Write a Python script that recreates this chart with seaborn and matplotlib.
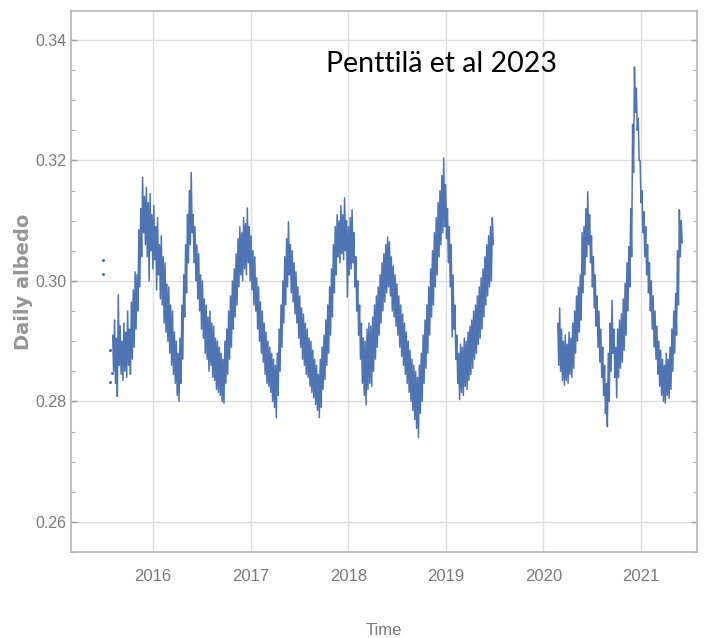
import matplotlib
matplotlib.use("Agg")
import matplotlib.pyplot as plt
from matplotlib.ticker import MultipleLocator
import pandas as pd
import seaborn as sns

# Daily albedo, two readings per week (first gap-free stretch)
seg1_start = "2015-08-03"
seg1_albedo = [
    0.2910, 0.2850, 0.2935, 0.2830, 0.2905, 0.2808, 0.2977, 0.2860, 0.2925, 0.2845, 0.2900, 0.2835, 0.2930, 0.2850,
    0.2915, 0.2840, 0.2950, 0.2860, 0.2920, 0.2845, 0.2965, 0.2870, 0.2985, 0.2890, 0.3015, 0.2920,
    0.3010, 0.2950, 0.3085, 0.2990, 0.3120, 0.3040, 0.3172, 0.3080, 0.3140, 0.3060, 0.3155, 0.3040, 0.3130, 0.3000,
    0.3145, 0.3050, 0.3110, 0.3020, 0.3125, 0.3035, 0.3090, 0.2985, 0.3105, 0.3010, 0.3060, 0.2970,
    0.3075, 0.2960, 0.3040, 0.2930, 0.3030, 0.2915, 0.2995, 0.2900, 0.2990, 0.2880, 0.2960, 0.2860, 0.2950, 0.2845,
    0.2915, 0.2830, 0.2900, 0.2810, 0.2880, 0.2800, 0.2905, 0.2830, 0.2960, 0.2870, 0.3010, 0.2940,
    0.3060, 0.2980, 0.3110, 0.3030, 0.3150, 0.3060, 0.3180, 0.3080, 0.3110, 0.3030, 0.3090, 0.3000, 0.3060, 0.2970,
    0.3045, 0.2950, 0.3010, 0.2920, 0.3000, 0.2905, 0.2970, 0.2880, 0.2960, 0.2870, 0.2940, 0.2850,
    0.2950, 0.2860, 0.2930, 0.2840, 0.2925, 0.2835, 0.2905, 0.2820, 0.2900, 0.2815, 0.2890, 0.2810, 0.2880, 0.2800,
    0.2870, 0.2797, 0.2900, 0.2830, 0.2920, 0.2845, 0.2950, 0.2870, 0.2975, 0.2890, 0.3000, 0.2920,
    0.3020, 0.2940, 0.3045, 0.2960, 0.3070, 0.2990, 0.3090, 0.3010, 0.3080, 0.3000, 0.3105, 0.3020, 0.3095, 0.3010,
    0.3121, 0.3030, 0.3090, 0.3000, 0.3075, 0.2985, 0.3050, 0.2960, 0.3040, 0.2950, 0.3005, 0.2920,
    0.2990, 0.2900, 0.2965, 0.2880, 0.2950, 0.2865, 0.2930, 0.2845, 0.2915, 0.2830, 0.2900, 0.2825, 0.2890, 0.2815,
    0.2880, 0.2800, 0.2870, 0.2790, 0.2860, 0.2773, 0.2880, 0.2810, 0.2920, 0.2850, 0.2960, 0.2890,
    0.3000, 0.2930, 0.3040, 0.2960, 0.3070, 0.2990, 0.3098, 0.3010, 0.3060, 0.2980, 0.3050, 0.2965, 0.3030, 0.2945,
    0.3015, 0.2930, 0.2990, 0.2905, 0.2975, 0.2890, 0.2955, 0.2870, 0.2945, 0.2860, 0.2930, 0.2845,
    0.2920, 0.2840, 0.2905, 0.2825, 0.2900, 0.2815, 0.2885, 0.2806, 0.2870, 0.2795, 0.2860, 0.2785, 0.2845, 0.2773,
    0.2870, 0.2790, 0.2890, 0.2820, 0.2910, 0.2836, 0.2935, 0.2860, 0.2960, 0.2880, 0.2990, 0.2910,
    0.3020, 0.2940, 0.3060, 0.2980, 0.3090, 0.3010, 0.3110, 0.3040, 0.3100, 0.3030, 0.3125, 0.3045, 0.3110, 0.3035,
    0.3138, 0.3050, 0.3100, 0.2973, 0.3090, 0.3010, 0.3105, 0.3020, 0.3118, 0.3030, 0.3080, 0.2990,
    0.3040, 0.2950, 0.3000, 0.2910, 0.2960, 0.2870, 0.2930, 0.2830, 0.2905, 0.2810, 0.2900, 0.2794, 0.2920, 0.2820,
    0.2930, 0.2830, 0.2925, 0.2825, 0.2940, 0.2850, 0.2960, 0.2870, 0.2975, 0.2890, 0.2990, 0.2910,
    0.3010, 0.2930, 0.3030, 0.2950, 0.3045, 0.2965, 0.3060, 0.2980, 0.3073, 0.2990, 0.3065, 0.2975, 0.3040, 0.2950,
    0.3025, 0.2940, 0.3010, 0.2925, 0.2995, 0.2910, 0.2975, 0.2890, 0.2960, 0.2875, 0.2945, 0.2860,
    0.2930, 0.2845, 0.2915, 0.2830, 0.2900, 0.2815, 0.2885, 0.2800, 0.2870, 0.2785, 0.2860, 0.2770, 0.2850, 0.2755,
    0.2840, 0.2740, 0.2860, 0.2780, 0.2880, 0.2800, 0.2910, 0.2830, 0.2935, 0.2855, 0.2960, 0.2880,
    0.2990, 0.2910, 0.3020, 0.2940, 0.3050, 0.2960, 0.3080, 0.2990, 0.3105, 0.3010, 0.3130, 0.3040, 0.3150, 0.3060,
    0.3175, 0.3080, 0.3204, 0.3090, 0.3160, 0.3070, 0.3120, 0.3030, 0.3090, 0.2990, 0.3060, 0.2907,
    0.3010, 0.2920, 0.2960, 0.2870, 0.2910, 0.2830, 0.2880, 0.2803, 0.2895, 0.2815, 0.2890, 0.2810, 0.2905, 0.2825,
    0.2900, 0.2820, 0.2915, 0.2835, 0.2925, 0.2845, 0.2935, 0.2855, 0.2950, 0.2870, 0.2960, 0.2880,
    0.2975, 0.2895, 0.2990, 0.2905, 0.3005, 0.2920, 0.3020, 0.2940, 0.3040, 0.2960, 0.3060, 0.2975, 0.3075, 0.2990,
    0.3090, 0.3000, 0.3105, 0.3060,
]

# Second stretch after the data gap
seg2_start = "2020-02-24"
seg2_albedo = [
    0.2930, 0.2860, 0.2955, 0.2850, 0.2920, 0.2835, 0.2900, 0.2827, 0.2910, 0.2835, 0.2895, 0.2830, 0.2915, 0.2845,
    0.2905, 0.2840, 0.2930, 0.2855, 0.2950, 0.2880, 0.2975, 0.2900, 0.2990, 0.2915, 0.3010, 0.2935,
    0.3080, 0.2980, 0.3090, 0.3010, 0.3120, 0.3040, 0.3148, 0.3060, 0.3110, 0.3030, 0.3075, 0.2990, 0.3040, 0.2955,
    0.3010, 0.2925, 0.2975, 0.2890, 0.2950, 0.2865, 0.2920, 0.2840, 0.2890, 0.2810, 0.2860, 0.2780,
    0.2830, 0.2758, 0.2880, 0.2800, 0.2930, 0.2850, 0.2968, 0.2880, 0.2920, 0.2840, 0.2890, 0.2806, 0.2920, 0.2840,
    0.2935, 0.2855, 0.2945, 0.2865, 0.2970, 0.2885, 0.2996, 0.2910, 0.3030, 0.2950, 0.3057, 0.2990,
    0.3120, 0.3040, 0.3260, 0.3180, 0.3355, 0.3280, 0.3320, 0.3250, 0.3270, 0.3200, 0.3200, 0.3130, 0.3150, 0.3080,
    0.3115, 0.3040, 0.3090, 0.3010, 0.3060, 0.2980, 0.3030, 0.2950, 0.3000, 0.2920, 0.2975, 0.2890,
    0.2950, 0.2870, 0.2925, 0.2845, 0.2900, 0.2825, 0.2885, 0.2810, 0.2870, 0.2800, 0.2860, 0.2797, 0.2880, 0.2810,
    0.2870, 0.2805, 0.2890, 0.2820, 0.2920, 0.2850, 0.2950, 0.2880, 0.2979, 0.2910, 0.3050, 0.2960,
    0.3118, 0.3040, 0.3100, 0.3063,
]

# Isolated early retrievals
early_dates = ["2015-06-27", "2015-06-28", "2015-07-23", "2015-07-31", "2015-07-25"]
early_albedo = [0.3035, 0.3012, 0.2885, 0.2847, 0.2832]

years = [2016, 2017, 2018, 2019, 2020, 2021]
y_ticks = [0.26, 0.28, 0.30, 0.32, 0.34]

LINE = "#4e74b4"
GREY_TXT = "#7a7a7a"
NARROW = ["Liberation Sans Narrow", "Liberation Sans", "DejaVu Sans"]

sns.set_theme(style="white")
plt.rcParams["font.family"] = NARROW

d1 = pd.DataFrame({"date": pd.date_range(seg1_start, periods=len(seg1_albedo), freq="84h"),
                   "albedo": seg1_albedo})
d2 = pd.DataFrame({"date": pd.date_range(seg2_start, periods=len(seg2_albedo), freq="84h"),
                   "albedo": seg2_albedo})
d0 = pd.DataFrame({"date": pd.to_datetime(early_dates), "albedo": early_albedo})

fig = plt.figure(figsize=(7.13, 6.38), dpi=100)
ax = fig.add_axes([71 / 713, 1 - 552 / 638, 626 / 713, 541 / 638])

sns.lineplot(data=d1, x="date", y="albedo", ax=ax, color=LINE, linewidth=1.1)
sns.lineplot(data=d2, x="date", y="albedo", ax=ax, color=LINE, linewidth=1.1)
sns.scatterplot(data=d0, x="date", y="albedo", ax=ax, color=LINE, s=5, linewidth=0)

ax.set_xlim(pd.Timestamp("2015-02-28"), pd.Timestamp("2021-07-29"))
ax.set_ylim(0.2550, 0.3448)

ax.set_xticks([pd.Timestamp(f"{y}-01-01") for y in years])
ax.set_xticklabels([str(y) for y in years])
ax.set_yticks(y_ticks)
ax.set_yticklabels([f"{v:.2f}" for v in y_ticks])
ax.yaxis.set_minor_locator(MultipleLocator(0.005))

ax.grid(True, which="major", color="#dedede", linewidth=1.0)
ax.set_axisbelow(True)
for side, sp in ax.spines.items():
    sp.set_color("#b4b4b4")
    sp.set_linewidth(1.2)

ax.tick_params(axis="x", which="major", direction="in", length=9, width=1.0,
               color="#a0a0a0", labelsize=12, labelcolor=GREY_TXT, pad=12)
ax.tick_params(axis="y", which="major", direction="in", length=4, width=1.0,
               color="#a0a0a0", labelsize=11.5, labelcolor=GREY_TXT, pad=3,
               right=True, left=True)
ax.tick_params(axis="y", which="minor", direction="in", length=3, width=0.8,
               color="#b0b0b0", right=True, left=True)

ax.set_xlabel("Time", fontsize=12, color=GREY_TXT, labelpad=28)
ax.set_ylabel("Daily albedo", fontsize=14, color="#959595",
              family=["DejaVu Sans"], fontweight="bold")
ax.yaxis.set_label_coords(-0.061, 0.5)

ax.text((442 - 71) / 626, (552 - 72) / 541, "Penttilä et al 2023",
        transform=ax.transAxes, ha="center", va="baseline",
        fontsize=20.5, color="black", family=["Lato", "DejaVu Sans"])

fig.savefig("out.png", dpi=100, facecolor="white")
